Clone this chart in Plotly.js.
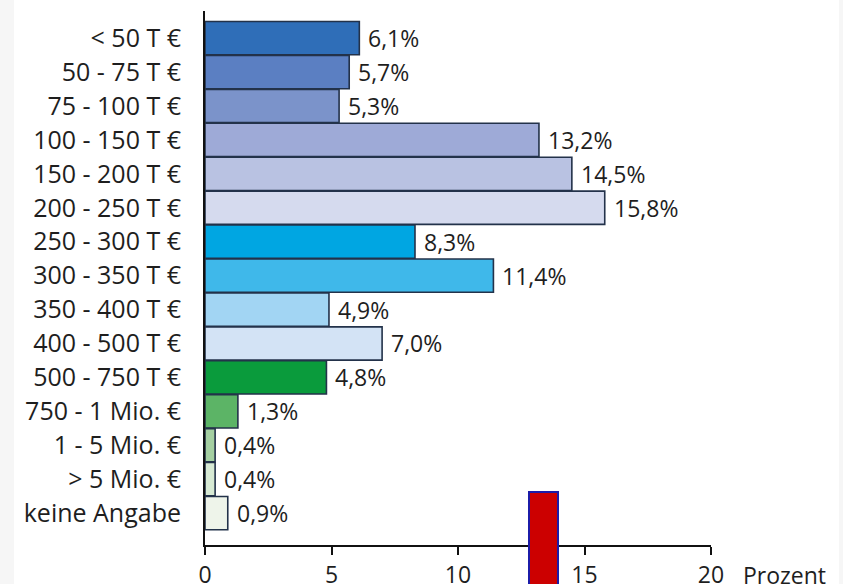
<!DOCTYPE html>
<html>
<head>
<meta charset="utf-8">
<script src="https://cdn.plot.ly/plotly-3.0.1.min.js"></script>
<style>html,body{margin:0;padding:0;background:#fff;}#chart{width:843px;height:584px;}</style>
</head>
<body>
<div id="chart"></div>
<script>
const categories = ["< 50 T €","50 - 75 T €","75 - 100 T €","100 - 150 T €","150 - 200 T €","200 - 250 T €","250 - 300 T €","300 - 350 T €","350 - 400 T €","400 - 500 T €","500 - 750 T €","750 - 1 Mio. €","1 - 5 Mio. €","> 5 Mio. €","keine Angabe"];
const values = [6.1, 5.7, 5.3, 13.2, 14.5, 15.8, 8.3, 11.4, 4.9, 7.0, 4.8, 1.3, 0.4, 0.4, 0.9];
const barColors = ["#2f6eb8","#5b7fc2","#7b93ca","#9eaad7","#b9c2e2","#d5daee","#00a6e2","#3fb8ea","#a2d5f3","#d3e3f5","#0a9b3c","#5cb466","#a5d0a2","#d7ead4","#eef4ea"];
const xTicks = [0, 5, 10, 15, 20];
const xTitle = "Prozent";

const W = 843, H = 584;
const L = 205, R = 132, T = 11, B = 39;
const plotW = W - L - R, plotH = H - T - B;
const px2paperX = p => (p - L) / plotW;
const px2paperY = p => (H - B - p) / plotH;

const fontFam = "Open Sans, sans-serif";
const txtColor = "#1e1e1e";
const fs = 25;

const trace = {
  type: "bar",
  orientation: "h",
  x: values,
  y: categories.map((c, i) => i),
  marker: { color: barColors, line: { color: "#23324a", width: 1.6 } },
  hoverinfo: "skip"
};

const annotations = values.map((v, i) => ({
  x: v, y: i, xref: "x", yref: "y",
  text: v.toFixed(1).replace(".", ",") + "%",
  showarrow: false, xanchor: "left", yanchor: "middle", xshift: 7,
  font: { family: fontFam, size: 23, color: txtColor }
}));
annotations.push({
  x: px2paperX(741), y: 0, xref: "paper", yref: "paper",
  text: xTitle, showarrow: false, xanchor: "left", yanchor: "top", yshift: -12,
  font: { family: fontFam, size: 23, color: txtColor }
});

const layout = {
  width: W, height: H,
  margin: { l: L, r: R, t: T, b: B, pad: 0 },
  paper_bgcolor: "#ffffff",
  plot_bgcolor: "#ffffff",
  showlegend: false,
  bargap: 0.02,
  xaxis: {
    range: [0, 20], tickvals: xTicks, ticktext: xTicks.map(String),
    showgrid: false, zeroline: false, showline: true, linecolor: "#111", linewidth: 2,
    ticks: "outside", ticklen: 8, tickwidth: 2, tickcolor: "#111",
    tickfont: { family: fontFam, size: 23, color: txtColor }, fixedrange: true
  },
  yaxis: {
    range: [14.94, -0.8], tickvals: categories.map((c, i) => i), ticktext: categories,
    showgrid: false, zeroline: false, showline: true, linecolor: "#111", linewidth: 2,
    ticks: "", ticklabelstandoff: 17,
    tickfont: { family: fontFam, size: fs, color: txtColor }, fixedrange: true
  },
  annotations: annotations,
  shapes: [
    { type: "rect", xref: "paper", yref: "paper", x0: px2paperX(0), x1: px2paperX(14), y0: px2paperY(H), y1: px2paperY(0), fillcolor: "#f6f6f6", line: { width: 0 }, layer: "below" },
    { type: "rect", xref: "paper", yref: "paper", x0: px2paperX(839), x1: px2paperX(W), y0: px2paperY(H), y1: px2paperY(0), fillcolor: "#f6f6f6", line: { width: 0 }, layer: "below" },
    { type: "rect", xref: "paper", yref: "paper", x0: px2paperX(529), x1: px2paperX(558), y0: px2paperY(H + 5), y1: px2paperY(492), fillcolor: "#cc0000", line: { color: "#1c1ca8", width: 2 }, layer: "above" }
  ]
};

Plotly.newPlot("chart", [trace], layout, { displayModeBar: false, staticPlot: true });
</script>
</body>
</html>
